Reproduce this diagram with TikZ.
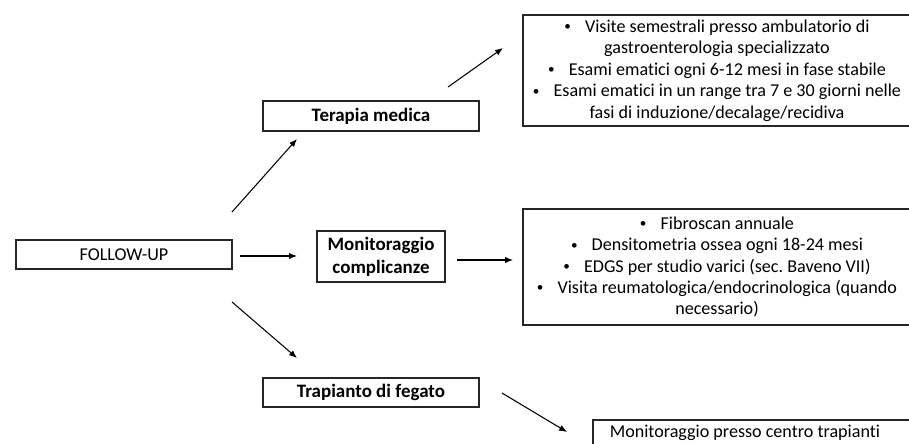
\documentclass[tikz,border=0pt]{standalone}
\usepackage{fontspec}
\setmainfont{Carlito}[Ligatures={NoCommon}]
\usepackage{tikz}
\usetikzlibrary{arrows.meta}
\frenchspacing
\newcommand{\pnt}{\raisebox{0.9pt}{\fontsize{7.5}{7.5}\selectfont\textbullet}\hspace{8pt}}
\tikzstyle{txt} = [font=\fontsize{10.3}{12.2}\selectfont]
\tikzstyle{stage} = [txt, rectangle, draw=black!85, line width=0.9pt, minimum width=4.32cm, minimum height=0.59cm, inner sep=1pt, text centered]
\tikzstyle{plan} = [txt, rectangle, draw=black!85, line width=0.9pt, minimum width=7.76cm, align=center, inner sep=1pt]
\tikzstyle{arrow} = [line width=0.6pt, -{Latex[length=4.5pt,width=3.6pt]}]
\tikzstyle{heavy} = [font=\fontsize{10.8}{13}\selectfont\bfseries]

\begin{document}
\begin{tikzpicture}[x=0.02cm, y=-0.02cm] % one unit = one pixel of the reference
\clip (0,0) rectangle (909,443);

% Nodes
\node (follow) [stage] at (124,254.5) {FOLLOW-UP};
\node (terapia) [stage, heavy] at (371,116) {Terapia medica};
\node (monit) [stage, heavy, minimum width=2.56cm, minimum height=1.02cm, align=center] at (381,256.5) {Monitoraggio\\complicanze};
\node (trapianto) [stage, heavy] at (371,392.5) {Trapianto di fegato};
\node (visite) [plan, minimum height=2.22cm] at (717,70.5) {\pnt Visite semestrali presso ambulatorio di\\gastroenterologia specializzato\\\pnt Esami ematici ogni 6-12 mesi in fase stabile\\\pnt Esami ematici in un range tra 7 e 30 giorni nelle\\fasi di induzione/decalage/recidiva};
\node (fibro) [plan, minimum height=2.32cm] at (717,267) {\pnt Fibroscan annuale\\\pnt Densitometria ossea ogni 18-24 mesi\\\pnt EDGS per studio varici (sec. Baveno VII)\\\pnt Visita reumatologica/endocrinologica (quando\\necessario)};
\node (centro) [plan, anchor=north west, minimum width=0pt, text width=5.9cm, minimum height=0.52cm, align=flush left, inner xsep=0.34cm, inner ysep=0pt] at (592,419) {Monitoraggio presso centro trapianti};

% Arrow ends
\coordinate (fu-up) at (232,212);
\coordinate (fu-mid) at (240,256);
\coordinate (fu-down) at (232,302);
\coordinate (tm-in) at (297,139);
\coordinate (mc-in) at (297,256);
\coordinate (tf-in) at (297,358);
\coordinate (tm-out) at (448,87);
\coordinate (vs-in) at (503,48);
\coordinate (mc-out) at (457,260);
\coordinate (fb-in) at (513,260);
\coordinate (tf-out) at (502,393);
\coordinate (ct-in) at (567,432);

% Arrows
\draw [arrow] (fu-up) -- (tm-in);
\draw [arrow] (fu-mid) -- (mc-in);
\draw [arrow] (fu-down) -- (tf-in);
\draw [arrow] (tm-out) -- (vs-in);
\draw [arrow] (mc-out) -- (fb-in);
\draw [arrow] (tf-out) -- (ct-in);

\end{tikzpicture}
\end{document}
